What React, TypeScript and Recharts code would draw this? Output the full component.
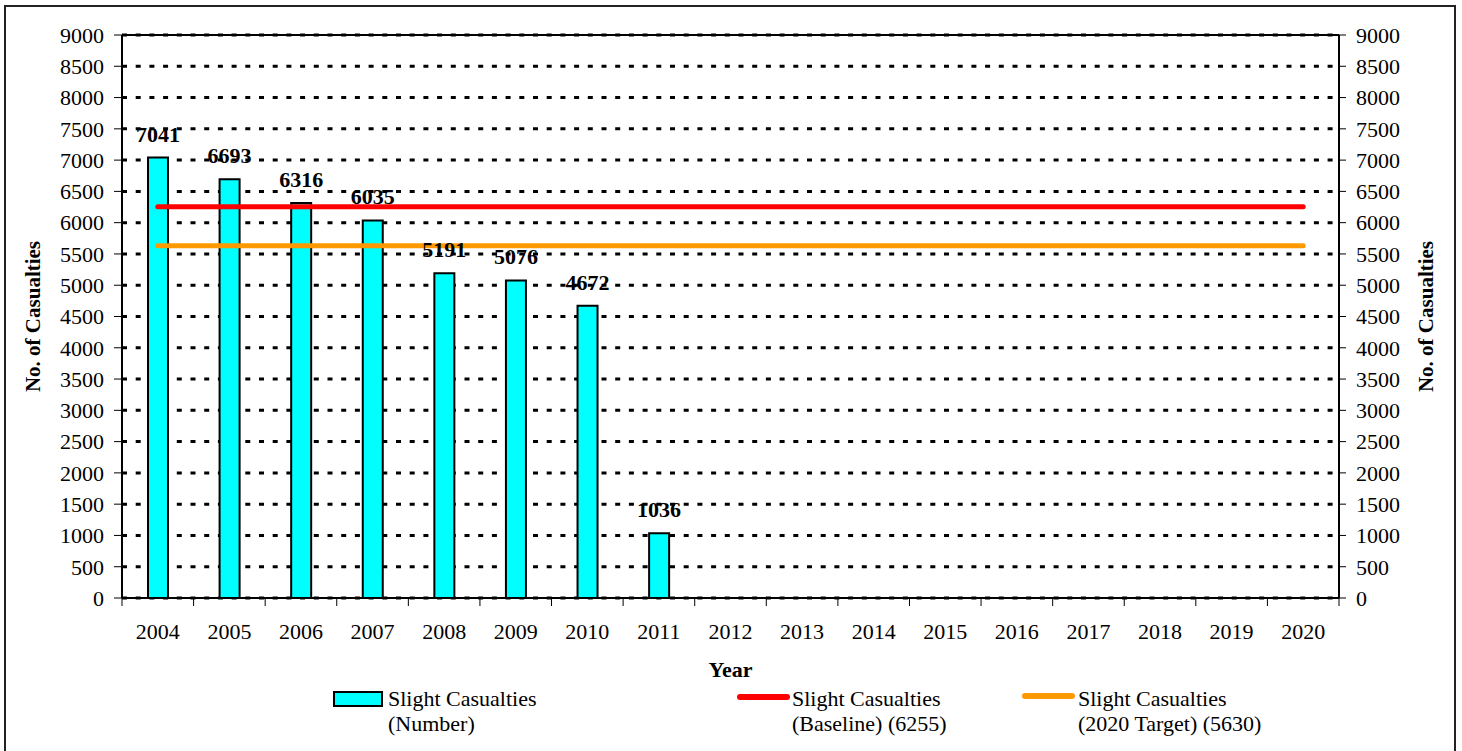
import {
  ComposedChart,
  CartesianGrid,
  XAxis,
  YAxis,
  Bar,
  Line,
  LabelList,
  Legend,
  ReferenceLine,
  Label,
} from "recharts";

const years = ["2004", "2005", "2006", "2007", "2008", "2009", "2010", "2011", "2012", "2013", "2014", "2015", "2016", "2017", "2018", "2019", "2020"];
const slightNumber = [7041, 6693, 6316, 6035, 5191, 5076, 4672, 1036, null, null, null, null, null, null, null, null, null];
const baseline = 6255;
const target2020 = 5630;
const yTicks = [0, 500, 1000, 1500, 2000, 2500, 3000, 3500, 4000, 4500, 5000, 5500, 6000, 6500, 7000, 7500, 8000, 8500, 9000];

const data = years.map((year, i) => ({ year, slight: slightNumber[i] }));

const FONT = "'Liberation Serif', 'Times New Roman', serif";

const XTick = (props: any) => {
  const { x, y, payload, index, visibleTicksCount } = props;
  const half = payload.offset || 35.8;
  return (
    <g>
      <line x1={x - half} x2={x - half} y1={y} y2={y + 8} stroke="#000" strokeWidth={1} />
      {index === visibleTicksCount - 1 && (
        <line x1={x + half} x2={x + half} y1={y} y2={y + 8} stroke="#000" strokeWidth={1} />
      )}
      <text x={x} y={y + 41} textAnchor="middle" fontSize={22} fontFamily={FONT} fill="#000">
        {payload.value}
      </text>
    </g>
  );
};

const LegendBox = () => {
  const text = { position: "absolute" as const, fontSize: 22, lineHeight: "25px", fontFamily: FONT, color: "#000", whiteSpace: "nowrap" as const };
  return (
    <div style={{ position: "relative", width: 1462, height: 60 }}>
      <div style={{ position: "absolute", left: 333, top: 5, width: 50, height: 16, background: "#00FFFF", border: "2px solid #000", boxSizing: "border-box" }} />
      <div style={{ ...text, left: 388, top: 0 }}>Slight Casualties<br />(Number)</div>
      <div style={{ position: "absolute", left: 737, top: 8, width: 53, height: 6, background: "#FF0000", borderRadius: 3 }} />
      <div style={{ ...text, left: 792, top: 0 }}>Slight Casualties<br />(Baseline) (6255)</div>
      <div style={{ position: "absolute", left: 1022, top: 7, width: 53, height: 6, background: "#FF9900", borderRadius: 3 }} />
      <div style={{ ...text, left: 1078, top: 0 }}>Slight Casualties<br />(2020 Target) (5630)</div>
    </div>
  );
};

export default function App() {
  return (
    <div style={{ position: "absolute", left: 0, top: 0, width: 1462, height: 751, overflow: "hidden", background: "#fff" }}>
      <div style={{ position: "absolute", left: 4, top: 5, width: 1452, height: 770, border: "2px solid #222", boxSizing: "border-box" }} />
      <ComposedChart
        width={1462}
        height={751}
        data={data}
        margin={{ top: 35, right: 63, bottom: 73, left: 62 }}
        style={{ fontFamily: FONT }}
      >
        <CartesianGrid yAxisId="left" vertical={false} stroke="#000" strokeWidth={3} strokeDasharray="5 8.7" />
        <XAxis
          dataKey="year"
          height={80}
          tick={<XTick />}
          tickLine={false}
          tickSize={0}
          tickMargin={0}
          interval={0}
          axisLine={{ stroke: "#000", strokeWidth: 2 }}
        >
          <Label value="Year" position="insideBottom" offset={1} fontSize={22} fontWeight="bold" fill="#000" fontFamily={FONT} />
        </XAxis>
        <YAxis
          yAxisId="left"
          width={60}
          domain={[0, 9000]}
          ticks={yTicks}
          interval={0}
          tickSize={8}
          tickMargin={10}
          tick={{ fontSize: 22, fill: "#000", fontFamily: FONT }}
          tickLine={{ stroke: "#000" }}
          axisLine={{ stroke: "#000", strokeWidth: 2 }}
        >
          <Label value="No. of Casualties" angle={-90} position="insideLeft" offset={-29} fontSize={21} fontWeight="bold" fill="#000" fontFamily={FONT} style={{ textAnchor: "middle" }} />
        </YAxis>
        <YAxis
          yAxisId="right"
          orientation="right"
          width={60}
          domain={[0, 9000]}
          ticks={yTicks}
          interval={0}
          tickSize={7}
          tickMargin={10}
          tick={{ fontSize: 22, fill: "#000", fontFamily: FONT }}
          tickLine={{ stroke: "#000" }}
          axisLine={{ stroke: "#000", strokeWidth: 2 }}
        >
          <Label value="No. of Casualties" angle={-90} position="insideRight" offset={-27} fontSize={21} fontWeight="bold" fill="#000" fontFamily={FONT} style={{ textAnchor: "middle" }} />
        </YAxis>
        <ReferenceLine yAxisId="left" y={9000} stroke="#000" strokeWidth={2} />
        <Bar yAxisId="left" dataKey="slight" fill="#00FFFF" stroke="#000" strokeWidth={2} barSize={20} isAnimationActive={false}>
          <LabelList dataKey="slight" position="top" offset={16} fontSize={22} fontWeight="bold" fill="#000" fontFamily={FONT} />
        </Bar>
        {/* invisible series so the right-hand axis gets its ticks */}
        <Line yAxisId="right" dataKey="slight" stroke="none" dot={false} activeDot={false} legendType="none" isAnimationActive={false} />
        <ReferenceLine
          yAxisId="left"
          segment={[{ x: years[0], y: baseline }, { x: years[years.length - 1], y: baseline }]}
          stroke="#FF0000"
          strokeWidth={5}
          strokeLinecap="round"
        />
        <ReferenceLine
          yAxisId="left"
          segment={[{ x: years[0], y: target2020 }, { x: years[years.length - 1], y: target2020 }]}
          stroke="#FF9900"
          strokeWidth={5}
          strokeLinecap="round"
        />
        <Legend
          layout="horizontal"
          verticalAlign="middle"
          align="center"
          content={<LegendBox />}
          wrapperStyle={{ position: "absolute", left: 0, top: 686, width: 1462, height: 60 }}
        />
      </ComposedChart>
    </div>
  );
}
